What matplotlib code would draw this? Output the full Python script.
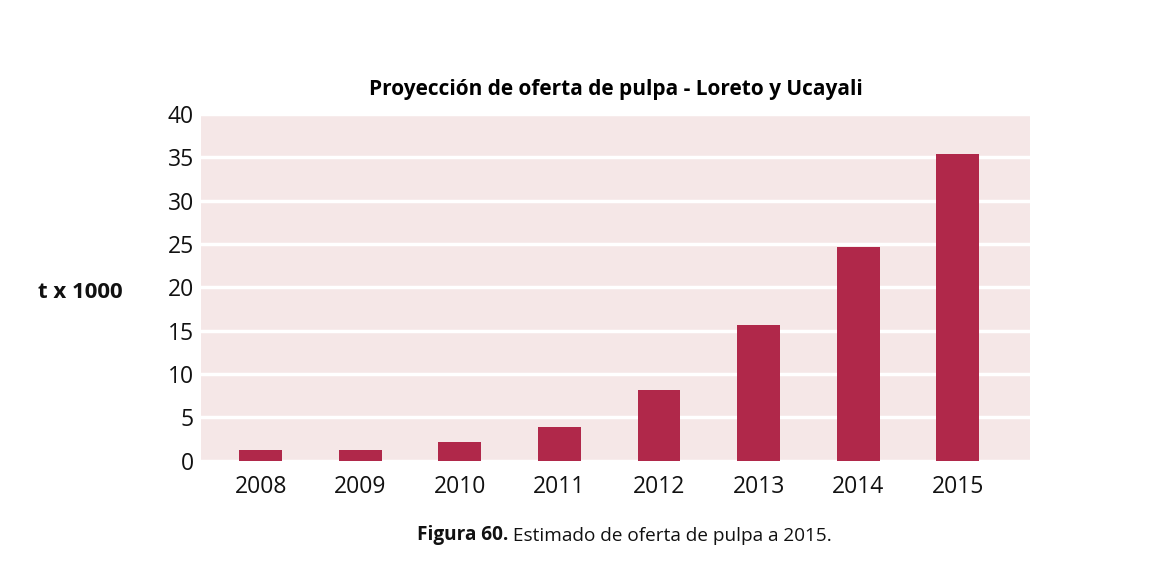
import matplotlib.pyplot as plt

years = ['2008', '2009', '2010', '2011', '2012', '2013', '2014', '2015']
oferta = [1.3, 1.3, 2.2, 3.9, 8.2, 15.7, 24.7, 35.4]
y_ticks = [0, 5, 10, 15, 20, 25, 30, 35, 40]

plt.rcParams['font.family'] = ['Open Sans', 'DejaVu Sans']

fig = plt.figure(figsize=(11.75, 5.76), dpi=100)
ax = fig.add_axes([0.171, 0.2, 0.706, 0.602])
ax.set_facecolor('#F5E7E7')

x = range(len(years))
ax.bar(x, oferta, width=0.43, color='#B0284A', zorder=3)

ax.set_xlim(-0.6, 7.73)
ax.set_ylim(0, 40)
ax.set_yticks(y_ticks)
ax.set_xticks(list(x))
ax.set_xticklabels(years)
ax.tick_params(length=0, labelsize=16.5, colors='#111111')
ax.tick_params(axis='y', pad=5)
ax.tick_params(axis='x', pad=10)
ax.yaxis.grid(True, color='white', linewidth=2.5, zorder=1)
for s in ax.spines.values():
    s.set_visible(False)

ax.set_title('Proyección de oferta de pulpa - Loreto y Ucayali',
             fontsize=15, fontweight='bold', pad=14, x=0.5)
fig.text(0.032, 0.493, 't x 1000', fontsize=16, fontweight='bold',
         ha='left', va='center', color='#111111')

# pie de figura: parte en negrita + parte normal
t1 = fig.text(0.355, 0.063, 'Figura 60.', fontsize=13.7, fontweight='bold',
              ha='left', va='baseline', color='#111111')
ax.annotate(' Estimado de oferta de pulpa a 2015.', xy=(1, 0), xycoords=t1,
            fontsize=13.7, ha='left', va='bottom', color='#111111')

fig.savefig('out.png', dpi=100, facecolor='white')
